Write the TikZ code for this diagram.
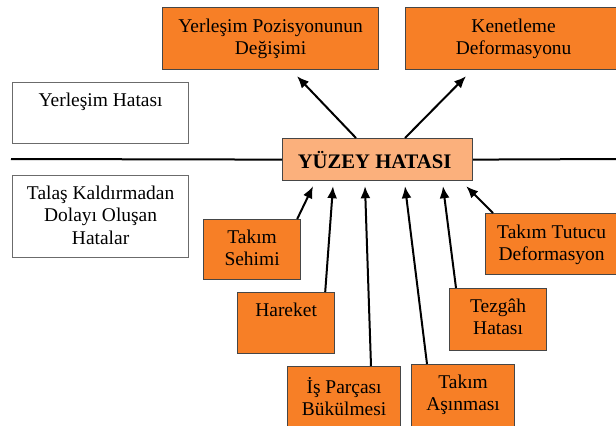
\documentclass[tikz,border=0pt]{standalone}
\usepackage{fontspec}
\setmainfont{Liberation Serif}
\usetikzlibrary{arrows.meta}

\definecolor{kutuTuruncu}{RGB}{247,127,38}
\definecolor{anaTuruncu}{RGB}{251,176,124}
\definecolor{kenarGri}{RGB}{70,70,70}

\tikzset{
  hatakutu/.style={draw=kenarGri,line width=0.9pt,fill=kutuTuruncu,anchor=north west,inner sep=0pt},
  beyazkutu/.style={draw=kenarGri!80,line width=0.9pt,fill=white,anchor=north west,inner sep=0pt},
  yazi/.style={anchor=north,align=center,inner sep=0pt,font=\fontsize{14.6}{16.6}\selectfont},
  ok/.style={line width=1.5pt,-{Latex[length=9pt,width=7.5pt]}},
}

\begin{document}
\begin{tikzpicture}[x=0.75pt,y=0.75pt,yscale=-1,xscale=1]
        \clip (0,0) rectangle (616,425);
        \fill [white] (0,0) rectangle (616,425);
        \node [beyazkutu,minimum width=176*0.75pt,minimum height=61*0.75pt] (yerlesim) at (12,82) {};
        \node [beyazkutu,minimum width=176*0.75pt,minimum height=82*0.75pt] (talas) at (12,175) {};
        \node [hatakutu,minimum width=216*0.75pt,minimum height=62*0.75pt] (pozisyon) at (162,7) {};
        \node [hatakutu,minimum width=220*0.75pt,minimum height=62*0.75pt] (kenetleme) at (405,7) {};
        \node [hatakutu,fill=anaTuruncu,minimum width=190*0.75pt,minimum height=42*0.75pt] (yuzey) at (282,138) {};
        \node [hatakutu,minimum width=97*0.75pt,minimum height=60*0.75pt] (sehim) at (203,219) {};
        \node [hatakutu,minimum width=97*0.75pt,minimum height=61*0.75pt] (hareket) at (237,292) {};
        \node [hatakutu,minimum width=113*0.75pt,minimum height=70*0.75pt] (parca) at (287,366) {};
        \node [hatakutu,minimum width=103*0.75pt,minimum height=70*0.75pt] (asinma) at (411,364) {};
        \node [hatakutu,minimum width=97*0.75pt,minimum height=62*0.75pt] (tezgah) at (449,288) {};
        \node [hatakutu,minimum width=140*0.75pt,minimum height=61*0.75pt] (tutucu) at (485,213) {};

        \draw [line width=1.5pt] (11,159) -- (yuzey.west);
        \draw [line width=1.5pt] (yuzey.east) -- (620,159);

        \node [yazi] at ([shift={(0,11)}]yerlesim.north) {Yerleşim Hatası};
        \node [yazi] at ([shift={(0,11)}]talas.north) {Talaş Kaldırmadan\\Dolayı Oluşan\\Hatalar};
        \node [yazi] at ([shift={(0,12)}]pozisyon.north) {Yerleşim Pozisyonunun\\Değişimi};
        \node [yazi] at ([shift={(-2,12)}]kenetleme.north) {Kenetleme\\Deformasyonu};
        \node [anchor=center,inner sep=0pt,font=\fontsize{15.5}{17}\selectfont\bfseries] at ([shift={(-3,0)}]yuzey.center) {YÜZEY HATASI};
        \node [yazi] at ([shift={(0,11)}]sehim.north) {Takım\\Sehimi};
        \node [yazi] at ([shift={(0,11)}]hareket.north) {Hareket};
        \node [yazi] at ([shift={(0,11)}]parca.north) {İş Parçası\\Bükülmesi};
        \node [yazi] at ([shift={(0,11)}]asinma.north) {Takım\\Aşınması};
        \node [yazi] at ([shift={(0,11)}]tezgah.north) {Tezgâh\\Hatası};
        \node [yazi] at ([shift={(-4,12)}]tutucu.north) {Takım Tutucu\\Deformasyon};

        \draw [ok] ([shift={(74,0)}]yuzey.north west) -- ([shift={(135,6)}]pozisyon.south west);
        \draw [ok] ([shift={(123,0)}]yuzey.north west) -- ([shift={(61,6)}]kenetleme.south west);
        \draw [ok] ([shift={(-4,0)}]sehim.north east) -- ([shift={(31,5)}]yuzey.south west);
        \draw [ok] ([shift={(-10,0)}]hareket.north east) -- ([shift={(51,5)}]yuzey.south west);
        \draw [ok] ([shift={(84,0)}]parca.north west) -- ([shift={(83,5)}]yuzey.south west);
        \draw [ok] ([shift={(16,0)}]asinma.north west) -- ([shift={(123,5)}]yuzey.south west);
        \draw [ok] ([shift={(7,0)}]tezgah.north west) -- ([shift={(161,5)}]yuzey.south west);
        \draw [ok] ([shift={(8,0)}]tutucu.north west) -- ([shift={(-7,5)}]yuzey.south east);
\end{tikzpicture}
\end{document}
